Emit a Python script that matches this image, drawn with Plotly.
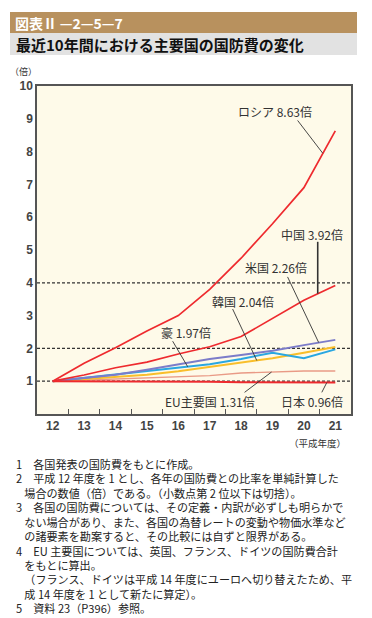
import plotly.graph_objects as go

years = [12, 13, 14, 15, 16, 17, 18, 19, 20, 21]
russia = [1.0, 1.55, 2.02, 2.53, 3.0, 3.8, 4.75, 5.8, 6.9, 8.63]
china = [1.0, 1.19, 1.41, 1.58, 1.83, 2.05, 2.36, 2.91, 3.47, 3.92]
usa = [1.0, 1.09, 1.2, 1.35, 1.52, 1.68, 1.8, 1.93, 2.1, 2.26]
korea = [1.0, 1.06, 1.13, 1.2, 1.3, 1.43, 1.55, 1.7, 1.87, 2.04]
australia = [1.0, 1.1, 1.2, 1.3, 1.4, 1.52, 1.68, 1.87, 1.7, 1.97]
eu = [1.0, 1.03, 1.06, 1.09, 1.13, 1.17, 1.25, 1.29, 1.31, 1.31]
japan = [1.0, 1.0, 1.0, 0.99, 0.99, 0.98, 0.97, 0.97, 0.96, 0.96]

y_ticks = [1, 2, 3, 4, 5, 6, 7, 8, 9, 10]
ref_lines = [1, 2, 4]

notes = [
    ("1", "各国発表の国防費をもとに作成。"),
    ("2", "平成 12 年度を 1 とし、各年の国防費との比率を単純計算した"),
    ("", "場合の数値（倍）である。（小数点第 2 位以下は切捨）。"),
    ("3", "各国の国防費については、その定義・内訳が必ずしも明らかで"),
    ("", "ない場合があり、また、各国の為替レートの変動や物価水準など"),
    ("", "の諸要素を勘案すると、その比較には自ずと限界がある。"),
    ("4", "EU 主要国については、英国、フランス、ドイツの国防費合計"),
    ("", "をもとに算出。"),
    ("", "（フランス、ドイツは平成 14 年度にユーロへ切り替えたため、平"),
    ("", "成 14 年度を 1 として新たに算定）。"),
    ("5", "資料 23（P396）参照。"),
]

OFF = 8
W, H = 372 - OFF, 618 - OFF
PL, PR, PT, PB = 37, 351, 86, 414
L, R, T, B = PL - OFF, W - (PR - OFF), PT - OFF, H - (PB - OFF)
PW, PH = PR - PL, PB - PT


def px(x):
    return (x - PL) / PW


def py(y):
    return (PB - y) / PH


JP = "Noto Sans CJK JP"

fig = go.Figure()

series = [
    ("EU主要国", eu, "#E99A86", 1.4),
    ("韓国", korea, "#F9BE2A", 2.0),
    ("豪", australia, "#2AA7E1", 2.0),
    ("米国", usa, "#7C7CC9", 2.0),
    ("日本", japan, "#EE2A2E", 2.0),
    ("中国", china, "#EE2A2E", 1.7),
    ("ロシア", russia, "#EE2A2E", 1.7),
]
for name, vals, col, w in series:
    fig.add_trace(go.Scatter(x=years, y=vals, mode="lines", name=name,
                             line=dict(color=col, width=w), showlegend=False,
                             hoverinfo="skip"))

fig.add_trace(go.Scatter(x=[years[0]], y=[1], xaxis="x2", mode="markers",
                         marker=dict(opacity=0), showlegend=False, hoverinfo="skip"))

shapes = []
for v in ref_lines:
    shapes.append(dict(type="line", xref="paper", yref="y", x0=0, x1=1, y0=v, y1=v,
                       line=dict(color="#333333", width=1.2, dash="3px,2px"), layer="below"))

shapes.append(dict(type="rect", xref="paper", yref="paper", x0=px(10), x1=px(357),
                   y0=py(33), y1=py(12), fillcolor="#B8915E", line=dict(width=0)))
shapes.append(dict(type="rect", xref="paper", yref="paper", x0=px(10), x1=px(357),
                   y0=py(55), y1=py(33), fillcolor="#E2E2E2", line=dict(width=0)))

leaders = [
    (19.80, 8.95, 20.60, 7.95),
    (20.44, 5.25, 20.44, 3.67),
    (19.48, 4.18, 20.47, 2.18),
    (17.73, 3.20, 18.50, 1.63),
    (15.82, 2.22, 16.30, 1.44),
    (18.11, 0.66, 18.97, 1.28),
    (20.57, 0.66, 20.73, 0.96),
]
for i, (x0, y0, x1, y1) in enumerate(leaders):
    shapes.append(dict(type="line", xref="x", yref="y", x0=x0, y0=y0, x1=x1, y1=y1,
                       line=dict(color="#333333", width=1.6 if i == 1 else 0.9)))

annotations = []
labels = [
    ("ロシア 8.63倍", 19.07, 9.23),
    ("中国 3.92倍", 20.25, 5.46),
    ("米国 2.26倍", 19.10, 4.46),
    ("韓国 2.04倍", 18.05, 3.42),
    ("豪 1.97倍", 16.24, 2.47),
    ("EU主要国 1.31倍", 17.00, 0.39),
    ("日本 0.96倍", 20.25, 0.39),
]
for t, x, y in labels:
    annotations.append(dict(text=t, x=x, y=y, xref="x", yref="y", showarrow=False,
                            font=dict(family=JP, size=12, color="#333333")))

annotations.append(dict(text="<b>図表Ⅱ\u2009—2—5—7</b>", xref="paper", yref="paper",
                        x=px(13), y=py(22.5), xanchor="left", yanchor="middle", showarrow=False,
                        font=dict(family=JP, size=14, color="white")))
annotations.append(dict(text="<b>最近10年間における主要国の国防費の変化</b>", xref="paper", yref="paper",
                        x=px(14), y=py(44), xanchor="left", yanchor="middle", showarrow=False,
                        font=dict(family=JP, size=15, color="#111111")))
annotations.append(dict(text="（倍）", xref="paper", yref="paper", x=px(8), y=py(72),
                        xanchor="left", yanchor="middle", showarrow=False,
                        font=dict(family=JP, size=9, color="#333333")))
annotations.append(dict(text="（平成年度）", xref="paper", yref="paper", x=px(348), y=py(443),
                        xanchor="right", yanchor="middle", showarrow=False,
                        font=dict(family=JP, size=9.5, color="#333333")))

note_lines = []
for num, txt in notes:
    if num:
        note_lines.append(num + "\u3000" + txt)
    else:
        note_lines.append("\u2002\u2005" + txt)
note_size = 11.1
annotations.append(dict(text="<br>".join(note_lines), xref="paper", yref="paper",
                        x=px(14), y=py(454), xanchor="left", yanchor="top", align="left",
                        showarrow=False,
                        font=dict(family=JP, size=note_size, color="#222222")))

fig.update_layout(
    width=W, height=H,
    margin=dict(l=L, r=R, t=T, b=B, pad=0),
    paper_bgcolor="white",
    plot_bgcolor="#FEFAE9",
    shapes=shapes,
    annotations=annotations,
    xaxis=dict(range=[11.5, 21.5], tickvals=years, ticktext=[str(v) for v in years],
               ticks="", showgrid=False, zeroline=False, showline=True, mirror=True,
               linecolor="#555555", linewidth=1.5,
               tickfont=dict(family="Liberation Sans", size=12, color="#444444", weight="bold")),
    xaxis2=dict(range=[11.5, 21.5], overlaying="x", tickvals=[v + 0.5 for v in years[:-1]],
                ticks="inside", ticklen=5, tickwidth=1.2, tickcolor="#555555",
                showticklabels=False, showgrid=False, zeroline=False, showline=False,
                anchor="y", side="bottom"),
    yaxis=dict(range=[0, 10], tickvals=y_ticks, ticks="", showgrid=False, zeroline=False,
               showline=True, mirror=True, linecolor="#555555", linewidth=1.5,
               tickfont=dict(family="Liberation Sans", size=12, color="#444444", weight="bold")),
)

fig.write_html("out.html")
